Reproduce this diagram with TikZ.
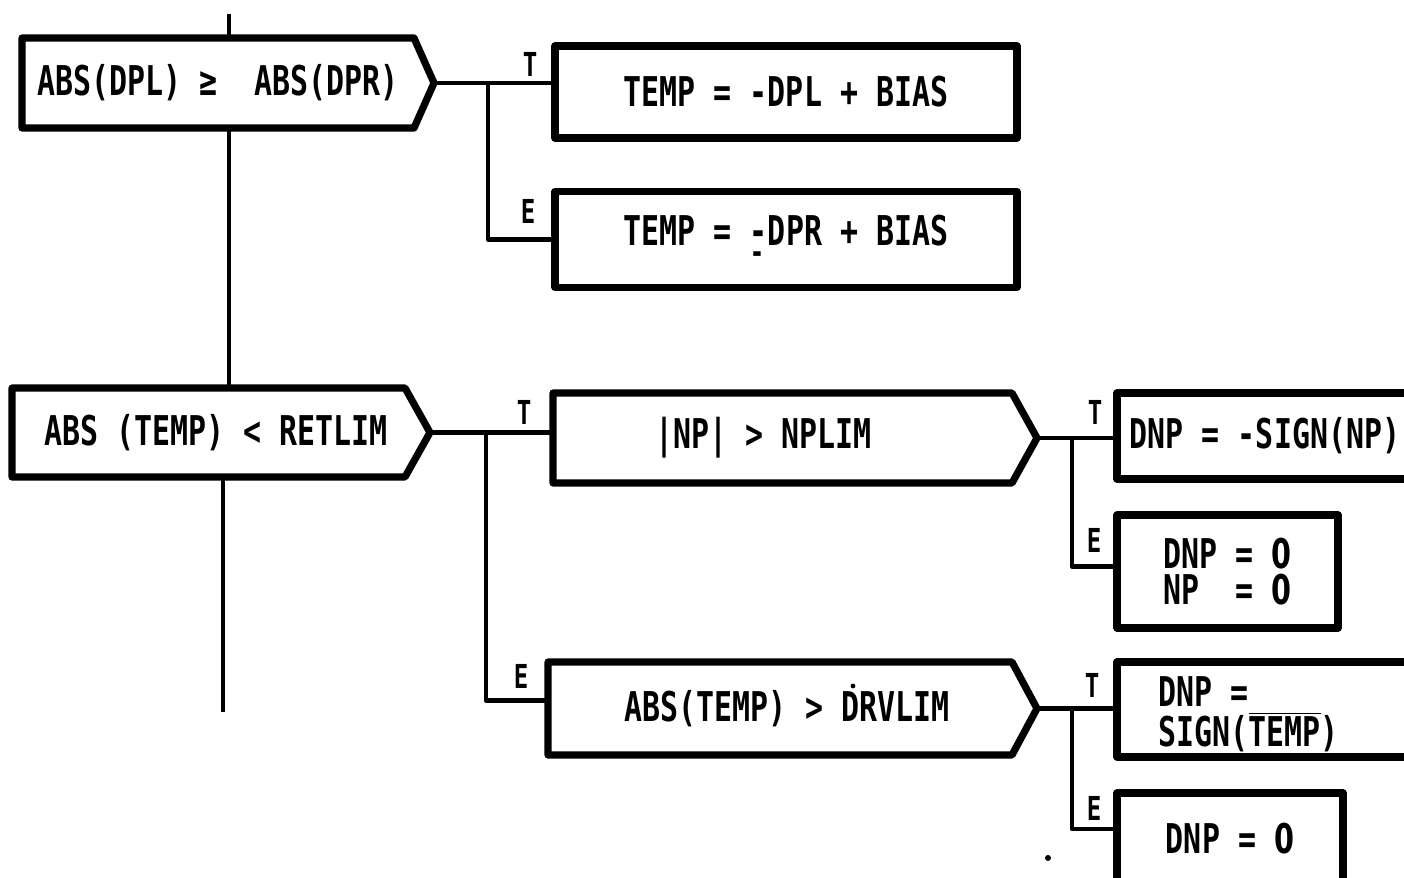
\documentclass[tikz,border=0pt]{standalone}
\usepackage{fontspec}
\newfontfamily\lettering[FakeStretch=0.73]{DejaVu Sans Mono}
\newfontfamily\plainzero[FakeStretch=0.70]{DejaVu Sans}
\newcommand\zro{{\plainzero\bfseries 0}}
\usetikzlibrary{calc}
\begin{document}
\begin{tikzpicture}[x=0.5pt,y=-0.5pt,
  txtfont/.style={font={\lettering\bfseries\fontsize{20.5pt}{18pt}\selectfont}},
  boxline/.style={line width=3.6pt, line join=round},
  box/.style={draw, boxline, txtfont, inner sep=0pt, outer sep=0pt, align=left},
  decbody/.style={draw=none, txtfont, inner sep=0pt, outer sep=0pt, align=left},
  conn/.style={line width=2.4pt, line join=round},
  mainline/.style={line width=1.8pt},
  lbl/.style={font={\lettering\bfseries\fontsize{16.5pt}{16.5pt}\selectfont}, inner sep=0pt}]
\useasboundingbox (0,0) rectangle (1404,878);
\clip (0,0) rectangle (1404,878);

% decision boxes
\node[decbody, minimum width=196pt, minimum height=45pt] (d1) at (218,83) {ABS(DPL) ≥~~ABS(DPR)};
\coordinate (d1tip) at ($(d1.east)+(20,0)$);
\draw[boxline] (d1.north west) -- (d1.north east) -- (d1tip) -- (d1.south east) -- (d1.south west) -- cycle;

\node[decbody, minimum width=196.5pt, minimum height=44.5pt] (d2) at (208.5,432.5) {\hspace*{7.5pt}ABS (TEMP) < RETLIM};
\coordinate (d2tip) at ($(d2.east)+(25,0)$);
\draw[boxline] (d2.north west) -- (d2.north east) -- (d2tip) -- (d2.south east) -- (d2.south west) -- cycle;

\node[decbody, minimum width=229.5pt, minimum height=45pt] (d3) at (782.5,438) {|NP| > NPLIM\hspace*{19pt}};
\coordinate (d3tip) at ($(d3.east)+(25,0)$);
\draw[boxline] (d3.north west) -- (d3.north east) -- (d3tip) -- (d3.south east) -- (d3.south west) -- cycle;

\node[decbody, minimum width=232pt, minimum height=46.5pt] (d4) at (780,708.5) {\hspace*{7pt}ABS(TEMP) > DRVLIM};
\coordinate (d4tip) at ($(d4.east)+(25,0)$);
\draw[boxline] (d4.north west) -- (d4.north east) -- (d4tip) -- (d4.south east) -- (d4.south west) -- cycle;

% process boxes
\node[box, minimum width=231pt, minimum height=46pt] (a1) at (786,92) {TEMP = -DPL + BIAS};
\node[box, minimum width=231pt, minimum height=48pt] (a2) at (786,239.5) {TEMP = \rlap{\raisebox{-0.45em}{\scalebox{0.8}{-}}}-DPR + BIAS};
\node[box, minimum width=148pt, minimum height=43pt] (b1) at (1265,436) {DNP = -SIGN(NP)};
\node[box, minimum width=110.5pt, minimum height=56.5pt] (b2) at (1227.5,571.5) {DNP = \zro\\NP~~= \zro};
\node[box, minimum width=153pt, minimum height=47.5pt] (c1) at (1270,709.5) {};
\node[txtfont, inner sep=0pt, anchor=west, align=left] (c1t) at (1158,714) {DNP =\\[2pt]SIGN($\overline{\hbox{TEMP}}$)};
\node[box, minimum width=113pt, minimum height=46pt] (c2) at (1230,839) {DNP = \zro};

% main vertical line
\coordinate (top) at (229,14);
\coordinate (bot) at (223,712);
\draw[mainline] (top) -- (top |- d1.north);
\draw[mainline] (top |- d1.south) -- (top |- d2.north);
\draw[mainline] (bot |- d2.south) -- (bot);

% junctions
\coordinate (j1) at ($(d1tip)+(54,0)$);
\coordinate (j2) at ($(d2tip)+(56,0)$);
\coordinate (j3) at ($(d3tip)+(35,0)$);
\coordinate (j4) at ($(d4tip)+(35,0)$);

% connectors
\draw[conn] (d1tip) -- (d1tip -| a1.west);
\draw[conn] (j1) |- (a2.west);
\draw[conn] (d2tip) -- (d2tip -| d3.west);
\draw[conn] (j2) |- ($(d4.west)+(0,-8)$);
\draw[conn] (d3tip) -- (d3tip -| b1.west);
\draw[conn] (j3) |- ($(b2.west)+(0,-5)$);
\draw[conn] (d4tip) -- (d4tip -| c1.west);
\draw[conn] (j4) |- ($(c2.west)+(0,-10)$);

% labels
\node[lbl] (t1) at (530,64) {T};
\node[lbl] (e1) at (528,211) {E};
\node[lbl] (t2) at (524,412) {T};
\node[lbl] (e2) at (521,676) {E};
\node[lbl] (t3) at (1095,412) {T};
\node[lbl] (e3) at (1094,540) {E};
\node[lbl] (t4) at (1092,685) {T};
\node[lbl] (e4) at (1094,808) {E};

% stray marks
\fill (853,686) circle (1.2pt);
\fill (1048,858) circle (1.5pt);
\end{tikzpicture}
\end{document}
